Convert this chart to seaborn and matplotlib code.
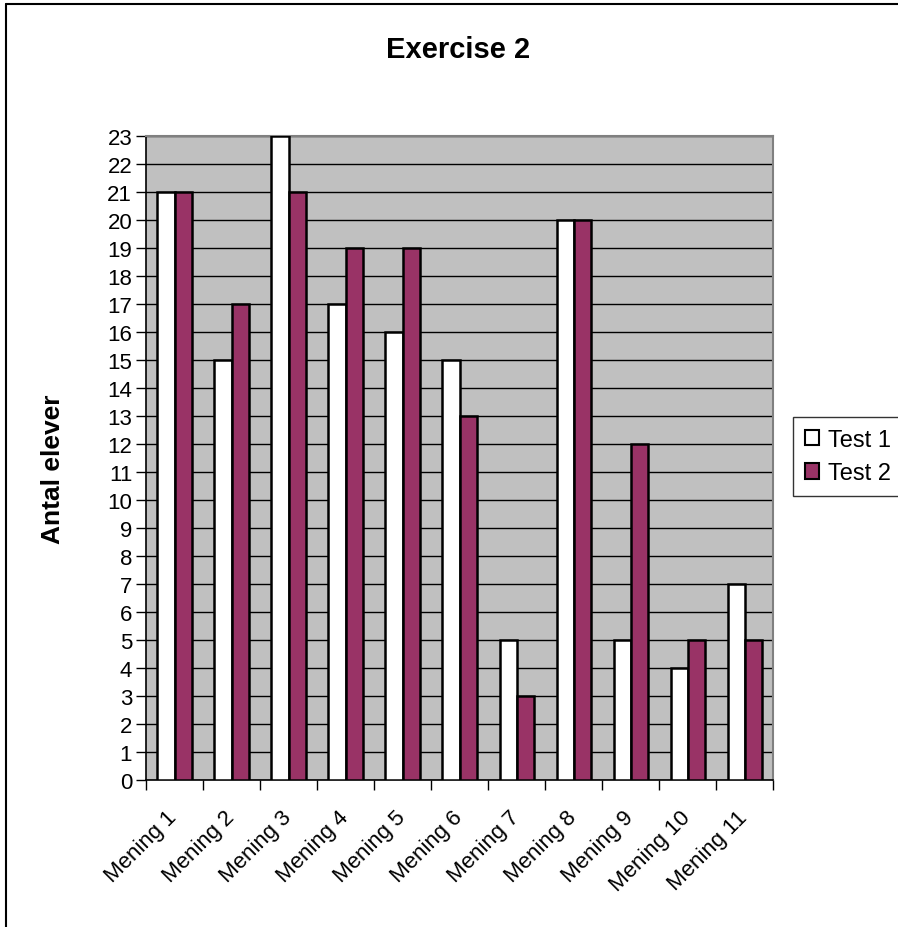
import matplotlib
matplotlib.use("Agg")
import matplotlib.pyplot as plt
import matplotlib.transforms as mtransforms
import seaborn as sns
import pandas as pd
import numpy as np
from matplotlib.patches import Rectangle
from matplotlib.lines import Line2D

categories = ["Mening 1", "Mening 2", "Mening 3", "Mening 4", "Mening 5", "Mening 6",
              "Mening 7", "Mening 8", "Mening 9", "Mening 10", "Mening 11"]
test1 = [21, 15, 23, 17, 16, 15, 5, 20, 5, 4, 7]
test2 = [21, 17, 21, 19, 19, 13, 3, 20, 12, 5, 5]
series_names = ["Test 1", "Test 2"]
colors = ["#FFFFFF", "#993366"]

df = pd.DataFrame({
    "Mening": categories * 2,
    "Antal": test1 + test2,
    "Test": [series_names[0]] * len(categories) + [series_names[1]] * len(categories),
})

sns.set_style("white")
plt.rcParams["font.family"] = ["Liberation Sans", "DejaVu Sans"]
plt.rcParams["text.color"] = "black"
plt.rcParams["axes.labelcolor"] = "black"
plt.rcParams["xtick.color"] = "black"
plt.rcParams["ytick.color"] = "black"

fig = plt.figure(figsize=(8.98, 9.28), dpi=100)
ax = fig.add_axes([0.1626, 0.1584, 0.6984, 0.694])

sns.barplot(data=df, x="Mening", y="Antal", hue="Test", palette=colors,
            saturation=1, width=0.6, edgecolor="black", linewidth=1.8, ax=ax,
            legend=False, zorder=3)

ax.set_facecolor("#C0C0C0")
ax.set_ylim(0, 23)
ax.set_xlim(-0.5, len(categories) - 0.5)
ax.set_yticks(range(0, 24))
ax.yaxis.grid(True, color="black", linewidth=1.0, zorder=1)
ax.set_axisbelow(True)

ax.tick_params(axis="y", direction="out", length=7, width=1, labelsize=16,
               left=True, pad=3)
ax.set_xticks(range(len(categories)))
ax.set_xticklabels(categories, rotation=45, ha="right", rotation_mode="anchor",
                   fontsize=16)
ax.tick_params(axis="x", which="major", length=0, pad=19)
ax.set_xticks(np.arange(-0.5, len(categories), 1.0), minor=True)
ax.tick_params(axis="x", which="minor", direction="out", length=7, width=1,
               bottom=True)
shift = mtransforms.ScaledTranslation(-8 / 100, 0, fig.dpi_scale_trans)
for lbl in ax.get_xticklabels():
    lbl.set_transform(lbl.get_transform() + shift)

for side in ["top", "right"]:
    ax.spines[side].set_color("#808080")
    ax.spines[side].set_linewidth(1.5)
for side in ["left", "bottom"]:
    ax.spines[side].set_color("black")
    ax.spines[side].set_linewidth(1.2)

ax.set_xlabel("")
ax.set_ylabel("")
fig.text(0.059, 0.494, "Antal elever", rotation=90, ha="center", va="center",
         fontsize=19, fontweight="bold")
fig.text(0.51, 0.946, "Exercise 2", ha="center", va="center",
         fontsize=21, fontweight="bold")

handles = [Rectangle((0, 0), 1, 1, facecolor=c, edgecolor="black", linewidth=1.5)
           for c in colors]
leg = fig.legend(handles, series_names, loc="center left",
                 bbox_to_anchor=(0.883, 0.507), fontsize=17, frameon=True,
                 fancybox=False, edgecolor="black", handlelength=0.62,
                 handleheight=0.62, handletextpad=0.35, borderpad=0.5,
                 labelspacing=0.5, borderaxespad=0)
leg.get_frame().set_linewidth(1.0)

# outer chart frame: top and left edges
fig.add_artist(Line2D([0.0067, 1.0], [0.9946, 0.9946], transform=fig.transFigure,
                      color="black", linewidth=1.5))
fig.add_artist(Line2D([0.0067, 0.0067], [0.0, 0.9946], transform=fig.transFigure,
                      color="black", linewidth=1.5))

fig.savefig("out.png", dpi=100, facecolor="white")
